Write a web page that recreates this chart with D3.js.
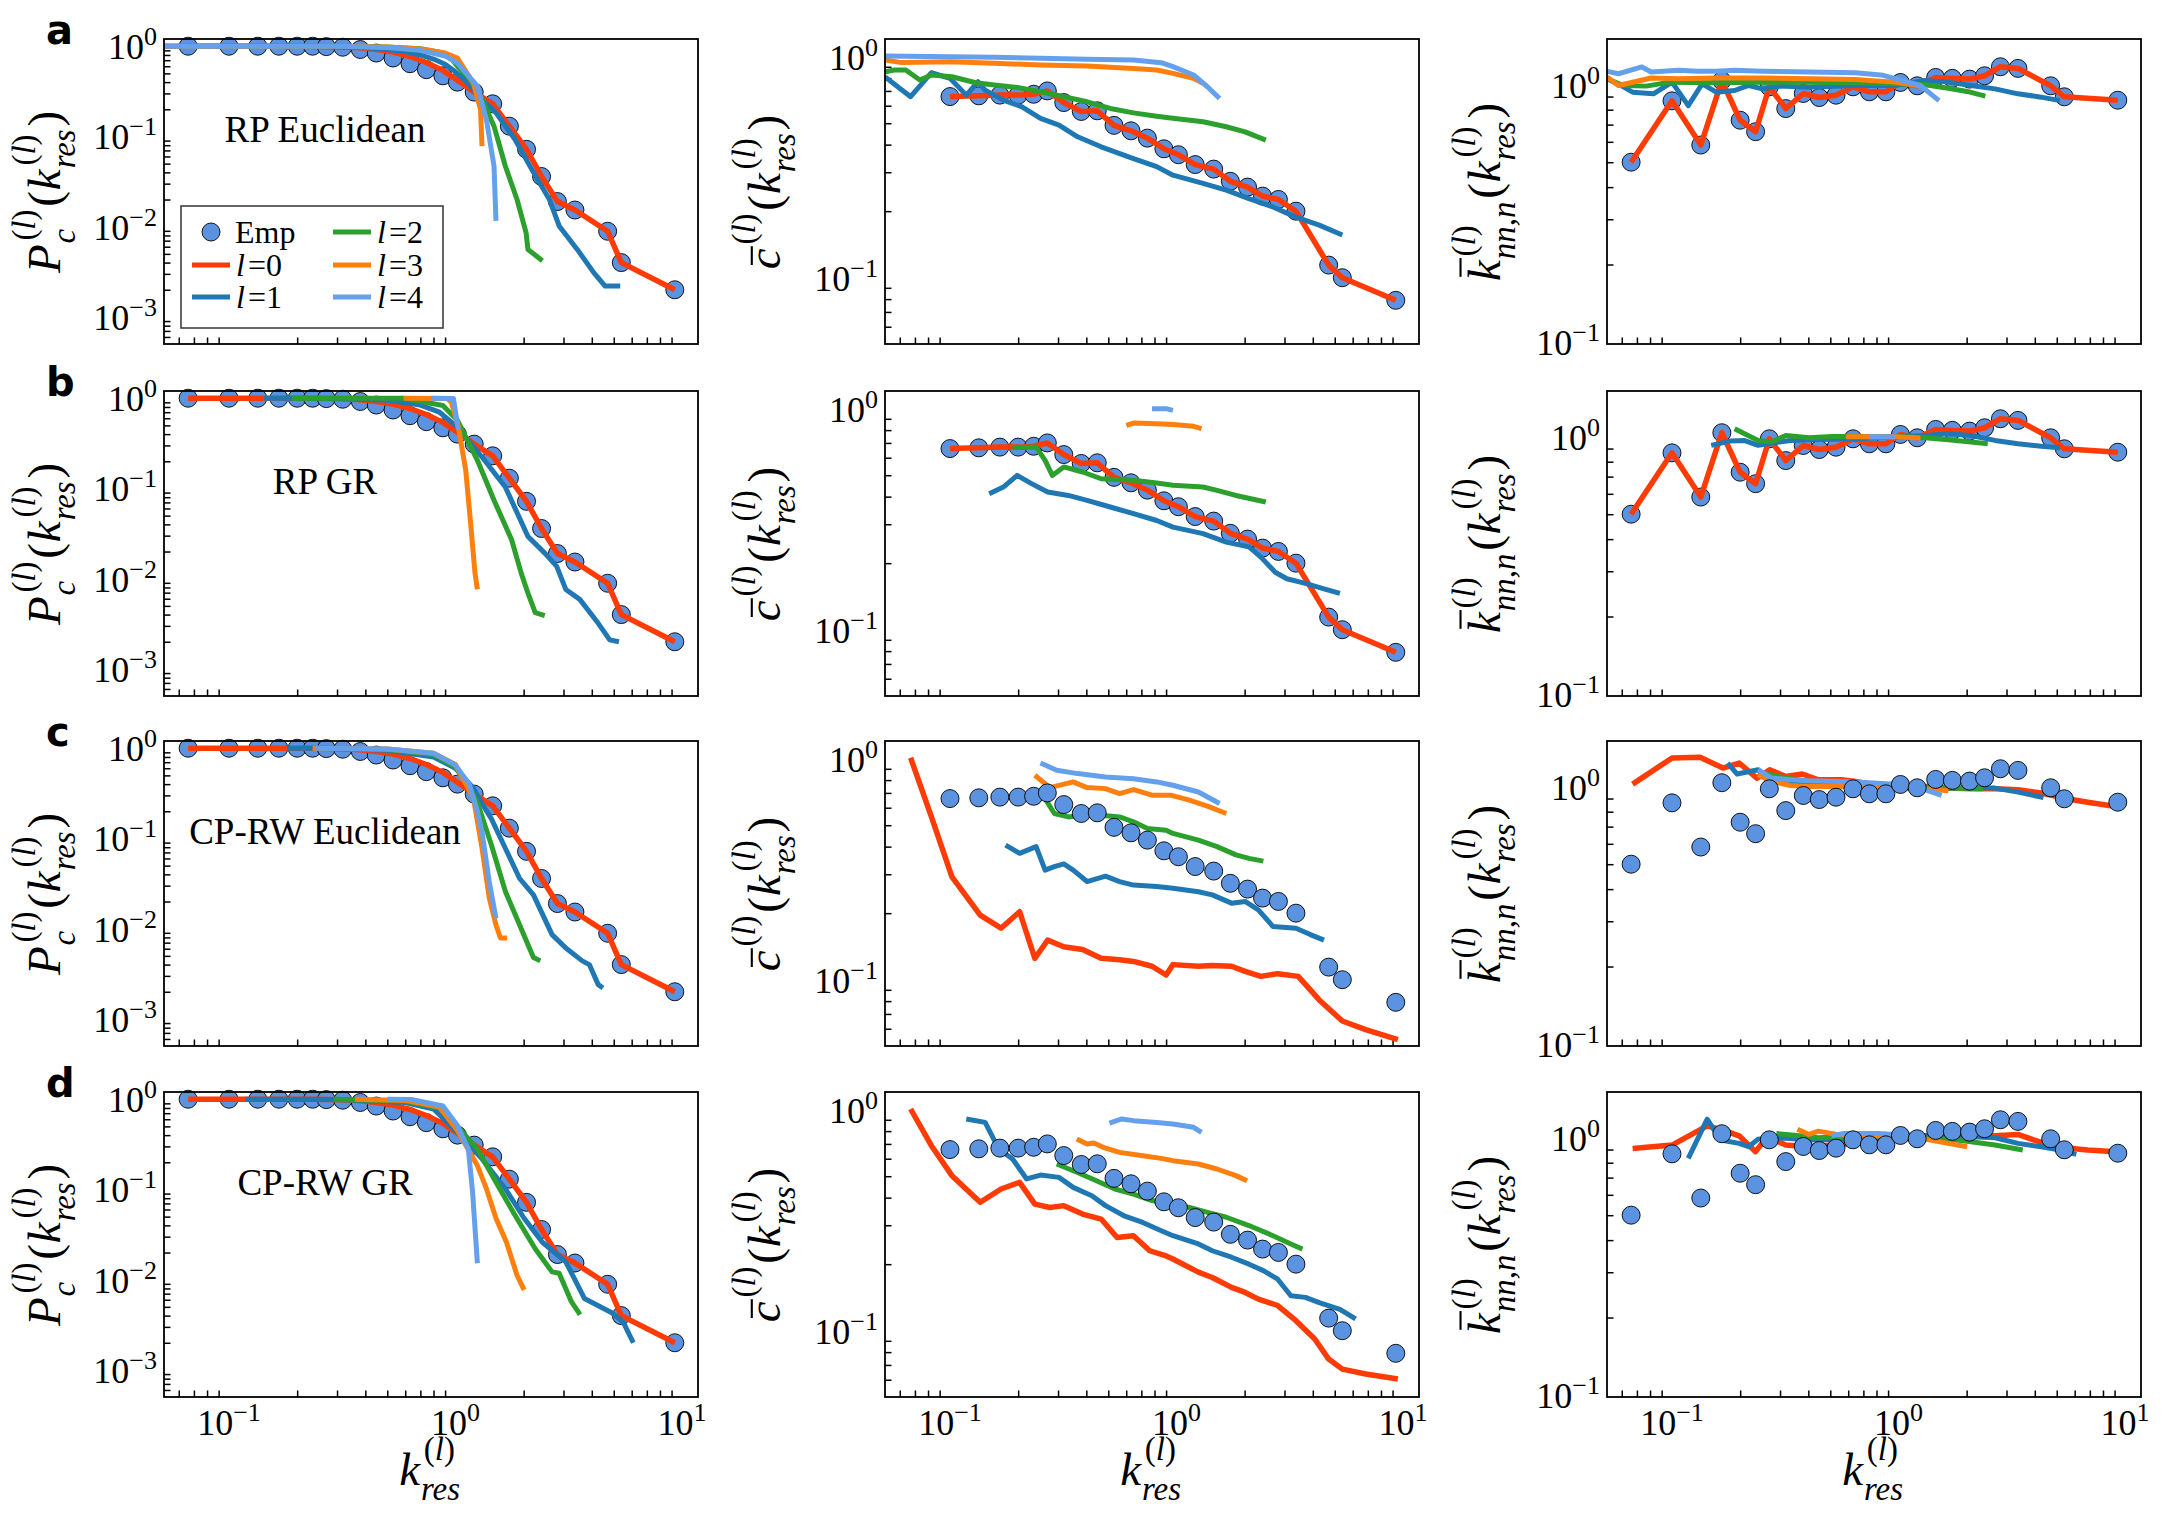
<!DOCTYPE html>
<html>
<head>
<meta charset="utf-8">
<script src="https://cdn.jsdelivr.net/npm/d3@7"></script>
<style>
  body { margin: 0; background: #fff; }
</style>
</head>
<body>
<script>
// ---------- data ----------
// empirical points, shared by all rows
const empX = [0.066, 0.1, 0.134, 0.166, 0.2, 0.234, 0.269, 0.318, 0.38, 0.447, 0.53, 0.63, 0.744, 0.88, 1.02, 1.21, 1.46, 1.73, 2.06, 2.4, 2.82, 3.37, 4.7, 5.4, 9.3];
const empPc = [1, 1, 1, 1, 1, 1, 0.99, 0.975, 0.92, 0.84, 0.74, 0.64, 0.55, 0.47, 0.40, 0.31, 0.23, 0.13, 0.072, 0.036, 0.019, 0.0153, 0.0089, 0.0040, 0.0020];
// clustering starts at the second point (0.1)
const empC = [0.66, 0.665, 0.67, 0.67, 0.676, 0.70, 0.62, 0.565, 0.569, 0.489, 0.462, 0.428, 0.383, 0.36, 0.325, 0.31, 0.273, 0.257, 0.234, 0.226, 0.20, 0.114, 0.10, 0.079];
const empKnn = [0.50, 0.866, 0.583, 1.037, 0.728, 0.657, 0.982, 0.808, 0.925, 0.892, 0.911, 0.982, 0.939, 0.939, 1.021, 0.991, 1.068, 1.059, 1.052, 1.084, 1.175, 1.158, 0.991, 0.898, 0.871];
// l=0 degree distribution (same in every row)
const pcL0 = [1, 1, 1, 1, 1, 1, 0.995, 0.985, 0.96, 0.92, 0.86, 0.77, 0.66, 0.54, 0.42, 0.31, 0.23, 0.13, 0.072, 0.036, 0.019, 0.0153, 0.0089, 0.0040, 0.0020];

const rowNames = ["RP Euclidean", "RP GR", "CP-RW Euclidean", "CP-RW GR"];
const panelLetters = ["a", "b", "c", "d"];
const legendNames = ["l=0", "l=1", "l=2", "l=3", "l=4"];

// row a
const aPc1 = [[0.05,1],[0.1,1],[0.2,0.995],[0.3,0.98],[0.4,0.96],[0.5,0.92],[0.6,0.87],[0.7,0.8],[0.8,0.72],[0.9,0.63],[1.0,0.52],[1.1,0.42],[1.2,0.33],[1.3,0.26],[1.51,0.183],[1.83,0.093],[2.21,0.040],[2.6,0.020],[2.87,0.0102],[3.45,0.0056],[4.08,0.0031],[4.58,0.0022],[5.34,0.0022]];
const aPc2 = [[0.05,1],[0.3,1],[0.5,0.98],[0.7,0.94],[0.85,0.86],[0.95,0.75],[1.02,0.6],[1.14,0.45],[1.25,0.33],[1.37,0.2],[1.48,0.13],[1.66,0.047],[1.87,0.020],[2.05,0.0086],[2.09,0.0056],[2.42,0.0042]];
const aPc3 = [[0.05,1],[0.3,1],[0.5,0.98],[0.7,0.93],[0.9,0.84],[1.02,0.74],[1.2,0.39],[1.29,0.2],[1.31,0.078]];
const aPc4 = [[0.05,1],[0.3,1],[0.5,0.97],[0.7,0.9],[0.9,0.78],[1.02,0.65],[1.25,0.36],[1.37,0.154],[1.48,0.047],[1.51,0.0116]];
const aC1 = [[0.0517,0.81],[0.067,0.659],[0.0828,0.846],[0.1,0.798],[0.118,0.67],[0.133,0.77],[0.143,0.706],[0.172,0.636],[0.208,0.593],[0.251,0.526],[0.303,0.49],[0.366,0.434],[0.465,0.391],[0.646,0.346],[0.818,0.318],[0.965,0.291],[1.31,0.267],[1.66,0.249],[2.09,0.228],[2.67,0.209],[3.37,0.188],[4.27,0.173],[5.4,0.156]];
const aC2 = [[0.0517,0.855],[0.0568,0.87],[0.0638,0.87],[0.0736,0.784],[0.0828,0.826],[0.102,0.811],[0.13,0.762],[0.157,0.744],[0.198,0.726],[0.251,0.694],[0.318,0.659],[0.403,0.625],[0.51,0.583],[0.646,0.557],[0.818,0.538],[0.965,0.526],[1.31,0.508],[1.66,0.482],[2.01,0.457],[2.48,0.419]];
const aC3 = [[0.0517,0.966],[0.061,0.94],[0.1,0.949],[0.157,0.933],[0.251,0.917],[0.403,0.907],[0.646,0.885],[0.818,0.87],[0.965,0.84],[1.19,0.798],[1.31,0.757]];
const aC4 = [[0.0517,1.007],[0.1,1.0],[0.157,0.993],[0.251,0.983],[0.403,0.973],[0.646,0.966],[0.857,0.939],[0.965,0.901],[1.19,0.826],[1.37,0.731],[1.55,0.647]];
const aK1 = [[0.0517,1.056],[0.0594,0.994],[0.067,0.936],[0.0828,0.922],[0.1,1.024],[0.118,0.83],[0.136,1.009],[0.157,0.936],[0.189,0.95],[0.218,0.994],[0.251,0.964],[0.303,0.988],[0.403,0.979],[0.646,0.994],[0.965,0.994],[1.31,1.04],[1.66,1.024],[2.09,0.994],[2.67,0.964],[3.37,0.922],[4.27,0.895],[5.16,0.868]];
const aK2 = [[0.0517,1.056],[0.061,0.994],[0.077,0.988],[0.098,1.024],[0.157,1.018],[0.251,1.024],[0.403,1.024],[0.646,1.018],[0.965,1.009],[1.31,1.0],[1.66,0.97],[2.01,0.942],[2.42,0.903]];
const aK3 = [[0.0517,1.072],[0.058,0.994],[0.081,1.062],[0.107,1.056],[0.157,1.062],[0.251,1.062],[0.403,1.056],[0.646,1.049],[0.965,1.024],[1.25,0.988]];
const aK4 = [[0.0517,1.128],[0.058,1.104],[0.0736,1.173],[0.081,1.121],[0.107,1.138],[0.13,1.128],[0.157,1.128],[0.189,1.138],[0.251,1.128],[0.403,1.121],[0.646,1.114],[0.857,1.088],[0.965,1.056],[1.25,0.994],[1.51,0.868]];

// row b
const bPc1 = [[0.143,1],[0.3,0.995],[0.5,0.95],[0.7,0.84],[0.85,0.7],[1.0,0.5],[1.15,0.33],[1.31,0.223],[1.66,0.104],[2.09,0.0293],[2.48,0.0192],[2.8,0.0137],[3.07,0.0076],[3.54,0.0059],[4.27,0.0032],[4.8,0.0021],[5.27,0.0020]];
const bPc2 = [[0.19,1],[0.59,1],[0.88,0.83],[1.02,0.57],[1.25,0.205],[1.48,0.074],[1.77,0.027],[1.95,0.0116],[2.09,0.0069],[2.25,0.0042],[2.48,0.0039]];
const bPc3 = [[0.59,1],[0.92,0.99],[0.96,0.9],[1.03,0.48],[1.11,0.16],[1.17,0.038],[1.22,0.0115],[1.25,0.0076]];
const bPc4 = [[0.78,1],[0.98,0.99],[1.01,0.6],[1.03,0.45]];
const bC1 = [[0.149,0.412],[0.172,0.442],[0.198,0.499],[0.229,0.458],[0.27,0.42],[0.333,0.405],[0.403,0.385],[0.51,0.359],[0.646,0.335],[0.818,0.312],[0.965,0.291],[1.31,0.272],[1.66,0.249],[2.09,0.237],[2.36,0.213],[2.73,0.182],[3.07,0.17],[3.71,0.162],[4.48,0.153],[5.27,0.146]];
const bC2 = [[0.189,0.666],[0.24,0.67],[0.263,0.584],[0.283,0.499],[0.318,0.545],[0.385,0.517],[0.465,0.482],[0.646,0.474],[0.818,0.461],[0.965,0.45],[1.31,0.442],[1.51,0.427],[1.83,0.405],[2.48,0.378]];
const bC3 = [[0.601,0.84],[0.646,0.861],[0.818,0.855],[0.965,0.849],[1.19,0.832],[1.29,0.812]];
const bC4 = [[0.78,1.0],[0.9,1.0],[0.965,0.983]];
const bK1 = [[0.149,0.926],[0.18,0.962],[0.208,0.968],[0.24,0.926],[0.276,0.945],[0.333,0.968],[0.403,0.974],[0.646,0.982],[0.965,0.997],[1.31,1.012],[1.66,1.027],[2.09,1.012],[2.67,0.968],[3.37,0.94],[4.27,0.918],[5.16,0.907]];
const bK2 = [[0.189,1.074],[0.24,0.968],[0.276,0.954],[0.318,1.012],[0.403,0.991],[0.51,1.003],[0.646,1.003],[0.818,0.997],[0.965,1.003],[1.31,0.991],[1.66,0.974],[2.09,0.954],[2.48,0.94]];
const bK3 = [[0.587,1.0],[0.744,1.0],[0.965,1.0],[1.25,0.99]];
const bK4 = [[0.744,1.0],[0.88,1.0],[0.965,0.997]];

// row c
const cPc1 = [[0.18,1],[0.3,0.99],[0.5,0.95],[0.8,0.8],[1.0,0.6],[1.2,0.36],[1.3,0.25],[1.44,0.166],[1.66,0.078],[1.92,0.036],[2.21,0.0237],[2.67,0.0086],[3.07,0.0061],[3.63,0.0044],[3.9,0.0040],[4.27,0.0024],[4.48,0.0022]];
const cPc2 = [[0.25,1],[0.5,0.97],[0.8,0.85],[1.0,0.62],[1.14,0.39],[1.25,0.25],[1.44,0.085],[1.66,0.026],[1.92,0.011],[2.21,0.0048],[2.37,0.0044]];
const cPc3 = [[0.234,1],[0.5,0.98],[0.8,0.88],[1.0,0.66],[1.2,0.28],[1.31,0.078],[1.41,0.022],[1.51,0.011],[1.58,0.0079],[1.69,0.0079]];
const cPc4 = [[0.24,1],[0.5,0.98],[0.8,0.88],[1.0,0.65],[1.15,0.4],[1.25,0.2],[1.31,0.118],[1.41,0.033],[1.51,0.013]];
const cC0 = [[0.067,1.01],[0.0828,0.545],[0.102,0.292],[0.136,0.196],[0.168,0.171],[0.203,0.203],[0.237,0.125],[0.27,0.151],[0.318,0.141],[0.385,0.137],[0.465,0.125],[0.561,0.123],[0.646,0.121],[0.78,0.115],[0.9,0.105],[0.965,0.117],[1.25,0.115],[1.44,0.116],[1.75,0.115],[2.01,0.109],[2.36,0.1035],[2.8,0.1065],[3.45,0.1035],[4.27,0.081],[5.4,0.065],[6.85,0.0594],[9.5,0.0536]];
const cC1 = [[0.176,0.406],[0.203,0.373],[0.24,0.40],[0.263,0.313],[0.289,0.325],[0.318,0.334],[0.35,0.313],[0.403,0.278],[0.486,0.294],[0.561,0.278],[0.646,0.268],[0.818,0.264],[0.965,0.259],[1.25,0.25],[1.44,0.242],[1.75,0.222],[2.01,0.226],[2.3,0.207],[2.67,0.174],[3.37,0.171],[3.9,0.16],[4.48,0.151]];
const cC2 = [[0.263,0.66],[0.289,0.565],[0.333,0.545],[0.385,0.555],[0.465,0.555],[0.561,0.545],[0.646,0.518],[0.744,0.483],[0.9,0.475],[0.965,0.459],[1.25,0.428],[1.51,0.40],[1.83,0.367],[2.09,0.354],[2.42,0.344]];
const cC3 = [[0.237,0.841],[0.276,0.74],[0.35,0.785],[0.403,0.74],[0.486,0.732],[0.561,0.695],[0.646,0.725],[0.78,0.684],[0.942,0.684],[1.14,0.649],[1.37,0.61],[1.66,0.565]];
const cC4 = [[0.251,0.956],[0.296,0.886],[0.366,0.856],[0.486,0.827],[0.646,0.812],[0.818,0.785],[0.965,0.758],[1.25,0.707],[1.55,0.627]];
const cK0 = [[0.067,1.024],[0.1,1.294],[0.133,1.302],[0.168,1.183],[0.198,1.237],[0.237,1.081],[0.27,1.165],[0.318,1.097],[0.376,1.121],[0.443,1.065],[0.561,1.065],[0.646,1.049],[0.857,1.003],[0.965,0.988],[1.31,1.003],[1.66,0.988],[2.09,0.982],[2.67,0.982],[3.37,0.973],[4.27,0.945],[5.4,0.903],[6.85,0.871],[9.1,0.838]];
const cK1 = [[0.176,1.237],[0.194,1.121],[0.24,1.165],[0.263,1.065],[0.333,1.049],[0.403,1.043],[0.646,1.033],[0.965,1.012],[1.66,0.988],[2.09,0.994],[2.67,0.988],[3.37,0.953],[4.37,0.908]];
const cK2 = [[0.251,1.131],[0.318,1.081],[0.403,1.049],[0.646,1.033],[0.965,1.012],[1.66,0.988],[2.36,0.982]];
const cK3 = [[0.24,1.114],[0.276,1.049],[0.333,1.012],[0.403,1.003],[0.646,1.003],[0.965,0.994],[1.31,0.982],[1.66,0.965]];
const cK4 = [[0.24,1.165],[0.276,1.081],[0.333,1.065],[0.403,1.055],[0.646,1.043],[0.965,1.024],[1.25,0.988],[1.55,0.925]];

// row d
const dPc1 = [[0.118,1],[0.3,0.99],[0.6,0.92],[0.8,0.78],[1.02,0.43],[1.31,0.218],[1.66,0.102],[2.01,0.048],[2.42,0.026],[3.07,0.0158],[3.71,0.0062],[4.9,0.0043],[5.5,0.0034],[6.1,0.0020]];
const dPc2 = [[0.29,1],[0.6,0.95],[0.85,0.8],[1.02,0.5],[1.25,0.28],[1.51,0.12],[1.83,0.052],[2.25,0.022],[2.67,0.0122],[2.87,0.0118],[3.25,0.0057],[3.55,0.0041]];
const dPc3 = [[0.36,1],[0.6,0.97],[0.85,0.82],[1.02,0.45],[1.25,0.184],[1.37,0.102],[1.51,0.048],[1.68,0.026],[1.87,0.0112],[2.01,0.0077]];
const dPc4 = [[0.5,1],[0.646,0.99],[0.88,0.84],[1.02,0.51],[1.14,0.28],[1.19,0.094],[1.25,0.0152]];
const dC0 = [[0.067,1.007],[0.0828,0.687],[0.102,0.503],[0.136,0.381],[0.168,0.4375],[0.203,0.469],[0.237,0.374],[0.276,0.361],[0.318,0.368],[0.385,0.337],[0.465,0.32],[0.547,0.264],[0.646,0.269],[0.762,0.23],[0.9,0.218],[0.965,0.211],[1.25,0.184],[1.44,0.174],[1.75,0.157],[2.01,0.149],[2.3,0.139],[2.8,0.13],[3.37,0.111],[4.08,0.0917],[4.7,0.0744],[5.4,0.067],[6.85,0.0637],[9.5,0.0604]];
const dC1 = [[0.118,0.908],[0.143,0.876],[0.164,0.664],[0.189,0.598],[0.218,0.486],[0.251,0.506],[0.303,0.494],[0.35,0.445],[0.423,0.408],[0.486,0.368],[0.587,0.331],[0.71,0.309],[0.857,0.2835],[0.965,0.269],[1.25,0.247],[1.44,0.23],[1.75,0.215],[2.09,0.2],[2.42,0.187],[2.8,0.171],[3.2,0.144],[3.71,0.1415],[4.27,0.134],[5.27,0.125],[6.18,0.113]];
const dC2 = [[0.296,0.568],[0.366,0.52],[0.443,0.477],[0.535,0.4375],[0.646,0.415],[0.78,0.388],[0.942,0.374],[1.14,0.361],[1.37,0.343],[1.66,0.326],[2.09,0.299],[2.67,0.269],[3.2,0.247],[3.6,0.234]];
const dC3 = [[0.363,0.737],[0.403,0.7],[0.432,0.707],[0.475,0.676],[0.561,0.641],[0.71,0.619],[0.857,0.602],[0.965,0.588],[1.25,0.568],[1.51,0.539],[1.83,0.503],[2.05,0.477]];
const dC4 = [[0.506,0.87],[0.574,0.908],[0.646,0.892],[0.818,0.876],[0.965,0.861],[1.19,0.832],[1.29,0.79]];
const dK0 = [[0.067,0.909],[0.1,0.937],[0.143,1.113],[0.168,1.071],[0.198,1.018],[0.234,0.883],[0.263,1.009],[0.318,0.937],[0.403,0.923],[0.51,0.937],[0.646,0.951],[0.818,0.971],[0.965,0.994],[1.31,1.018],[1.66,1.039],[2.09,1.024],[2.67,1.018],[3.37,1.030],[4.27,0.959],[5.4,0.915],[6.85,0.896],[9.1,0.883]];
const dK1 = [[0.118,0.832],[0.143,1.181],[0.164,0.98],[0.198,0.951],[0.218,0.923],[0.24,0.988],[0.276,1.0],[0.333,0.994],[0.403,0.98],[0.646,0.988],[0.965,1.0],[1.66,1.018],[2.09,1.009],[2.67,1.0],[3.37,0.951],[4.27,0.923],[5.16,0.896],[6.1,0.862]];
const dK2 = [[0.289,1.039],[0.366,1.018],[0.443,1.0],[0.646,1.018],[0.965,1.009],[1.66,0.988],[2.09,0.965],[2.67,0.937],[3.54,0.896]];
const dK3 = [[0.358,1.08],[0.403,1.03],[0.443,1.061],[0.535,1.03],[0.646,1.018],[0.818,1.018],[0.965,1.009],[1.31,0.988],[1.66,0.951],[2.01,0.923]];
const dK4 = [[0.506,1.018],[0.574,1.039],[0.818,1.039],[0.965,1.03],[1.29,1.018]];

// ---------- layout ----------
const W = 2165, H = 1519;
const colX = [164, 885, 1607], rowY = [39, 391, 741, 1092];
const panelW = 534, panelH = 305;
const SERIF = "'Liberation Serif', 'DejaVu Serif', serif";
const lineColors = ["#ff3b05", "#1f77b4", "#2ca02c", "#ff7f0e", "#64a0ec"];
const empColor = "#5b93e0";

const pairs = (xs, ys) => ys.map((v, i) => [xs[i], v]);
const empPcPts = pairs(empX, empPc);
const empCPts = pairs(empX.slice(1), empC);
const empKPts = pairs(empX, empKnn);
const pcL0Pts = pairs(empX, pcL0);

// series[row][col] = [l0..l4]
const series = [
  [[pcL0Pts, aPc1, aPc2, aPc3, aPc4], [empCPts, aC1, aC2, aC3, aC4], [empKPts, aK1, aK2, aK3, aK4]],
  [[pcL0Pts, bPc1, bPc2, bPc3, bPc4], [empCPts, bC1, bC2, bC3, bC4], [empKPts, bK1, bK2, bK3, bK4]],
  [[pcL0Pts, cPc1, cPc2, cPc3, cPc4], [cC0, cC1, cC2, cC3, cC4], [cK0, cK1, cK2, cK3, cK4]],
  [[pcL0Pts, dPc1, dPc2, dPc3, dPc4], [dC0, dC1, dC2, dC3, dC4], [dK0, dK1, dK2, dK3, dK4]]
];
const empSeries = [empPcPts, empCPts, empKPts];

const x = d3.scaleLog().domain([10 ** -1.287, 10 ** 1.071]).range([0, panelW]);
const yScales = [
  d3.scaleLog().domain([10 ** -3.3, 10 ** 0.08]).range([panelH, 0]),
  d3.scaleLog().domain([10 ** -1.30, 10 ** 0.08]).range([panelH, 0]),
  d3.scaleLog().domain([10 ** -1.008, 10 ** 0.178]).range([panelH, 0])
];

const svg = d3.select("body").append("svg")
  .attr("width", W).attr("height", H)
  .style("font-family", SERIF);
svg.append("rect").attr("width", W).attr("height", H).attr("fill", "#fff");
const defs = svg.append("defs");

function logTicks(dom) {
  const lo = Math.log10(dom[0]), hi = Math.log10(dom[1]);
  const major = [], minor = [];
  for (let e = Math.floor(lo); e <= Math.ceil(hi); e++) {
    const v = Math.pow(10, e);
    if (v >= dom[0] * 0.999 && v <= dom[1] * 1.001) major.push(v);
    for (let m = 2; m < 10; m++) {
      const w = m * Math.pow(10, e);
      if (w >= dom[0] && w <= dom[1]) minor.push(w);
    }
  }
  return { major, minor };
}

// "10" with a superscript exponent
function powLabel(sel, v) {
  const e = Math.round(Math.log10(v));
  sel.append("tspan").text("10");
  sel.append("tspan").attr("dy", -14).attr("font-size", 26).text(e < 0 ? "\u2212" + (-e) : e);
}

// small mathtext-like helper: one <text>, pieces as positioned tspans
function mathText(g, items, fs) {
  const s = fs * 0.7;
  const txt = g.append("text");
  let cx = 0;
  function put(p, px, py, size) {
    const el = txt.append("tspan").attr("x", px).attr("y", py).attr("font-size", size)
      .attr("font-style", p.it ? "italic" : "normal").text(p.t);
    return el.node().getComputedTextLength();
  }
  items.forEach(d => {
    if (d.t !== undefined) {
      const w = put(d, cx, 0, fs);
      if (d.bar) {
        g.append("line")
          .attr("x1", cx + w * 0.2).attr("x2", cx + w * 1.1)
          .attr("y1", -d.bar * fs).attr("y2", -d.bar * fs)
          .attr("stroke", "#000").attr("stroke-width", fs * 0.045);
      }
      cx += w + fs * 0.02;
    } else {
      let xs = cx, xp = cx + fs * 0.06;
      // sub/sup stacked at the same x
      (d.sub || []).forEach(p => { xs += put(p, xs, fs * 0.31, s); });
      (d.sup || []).forEach(p => { xp += put(p, xp, -fs * 0.53, s); });
      cx = Math.max(xs, xp) + fs * 0.06;
    }
  });
  return cx;
}

const supL = [{ t: "(" }, { t: "l", it: true }, { t: ")" }];
const kres = [{ t: "k", it: true }, { sub: [{ t: "res", it: true }], sup: supL }];
const yLabels = [
  [{ t: "P", it: true }, { sub: [{ t: "c", it: true }], sup: supL }, { t: "(" }, ...kres, { t: ")" }],
  [{ t: "c", it: true, bar: 0.6 }, { sup: supL }, { t: "(" }, ...kres, { t: ")" }],
  [{ t: "k", it: true, bar: 0.84 }, { sub: [{ t: "nn,n", it: true }], sup: supL }, { t: "(" }, ...kres, { t: ")" }]
];
const yLabelX = [60, 780, 1500];
const LABEL_FS = 47;

const line = (y) => d3.line().x(d => x(d[0])).y(d => y(d[1]));

for (let r = 0; r < 4; r++) {
  for (let c = 0; c < 3; c++) {
    const y = yScales[c];
    const g = svg.append("g").attr("transform", `translate(${colX[c]},${rowY[r]})`);

    const clipId = `clip${r}${c}`;
    defs.append("clipPath").attr("id", clipId)
      .append("rect").attr("width", panelW).attr("height", panelH);

    // ticks point inward, no top/right ticks
    const xt = logTicks(x.domain()), yt = logTicks(y.domain());
    const bx = g.append("g").attr("transform", `translate(0,${panelH})`);
    bx.call(d3.axisBottom(x).tickValues(xt.major).tickSize(-12).tickFormat(""));
    bx.call(d3.axisBottom(x).tickValues(xt.minor).tickSize(-6.5).tickFormat(""));
    const ly = g.append("g");
    ly.call(d3.axisLeft(y).tickValues(yt.major).tickSize(-12).tickFormat(""));
    ly.call(d3.axisLeft(y).tickValues(yt.minor).tickSize(-6.5).tickFormat(""));
    g.selectAll(".domain").remove();
    g.selectAll(".tick line").attr("stroke", "#000").attr("stroke-width", 1.5);

    yt.major.forEach(v => {
      const t = g.append("text").attr("x", -7).attr("y", y(v) + 13)
        .attr("text-anchor", "end").attr("font-size", 36);
      powLabel(t, v);
    });
    if (r === 3) {
      xt.major.forEach(v => {
        const t = g.append("text").attr("x", x(v)).attr("y", panelH + 38)
          .attr("text-anchor", "middle").attr("font-size", 36);
        powLabel(t, v);
      });
    }

    const empOnTop = r >= 2 && c >= 1;
    const drawEmp = () => {
      g.append("g").selectAll("circle")
        .data(empSeries[c])
        .join("circle")
        .attr("cx", d => x(d[0])).attr("cy", d => y(d[1]))
        .attr("r", 9)
        .attr("fill", empColor).attr("stroke", "#000").attr("stroke-width", 0.9);
    };
    const drawLines = () => {
      g.append("g").attr("clip-path", `url(#${clipId})`)
        .selectAll("path")
        .data(series[r][c])
        .join("path")
        .attr("d", line(y))
        .attr("fill", "none")
        .attr("stroke", (d, i) => lineColors[i])
        .attr("stroke-width", (d, i) => i === 0 ? 5.5 : 5)
        .attr("stroke-linejoin", "round");
    };
    if (empOnTop) { drawLines(); drawEmp(); } else { drawEmp(); drawLines(); }

    g.append("rect").attr("width", panelW).attr("height", panelH)
      .attr("fill", "none").attr("stroke", "#000").attr("stroke-width", 1.8);

    if (c === 0) {
      g.append("text").attr("x", 161).attr("y", 103)
        .attr("text-anchor", "middle").attr("font-size", 37)
        .text(rowNames[r]);
      svg.append("text").attr("x", 46).attr("y", rowY[r] + 5)
        .attr("font-family", "'DejaVu Sans', 'Liberation Sans', sans-serif")
        .attr("font-weight", "bold").attr("font-size", 40)
        .text(panelLetters[r]);
    }

    // y label, rotated
    const yl = svg.append("g")
      .attr("transform", `translate(${yLabelX[c]},${rowY[r] + panelH / 2}) rotate(-90)`);
    const inner = yl.append("g");
    const w = mathText(inner, yLabels[c], LABEL_FS);
    inner.attr("transform", `translate(${-w / 2},0)`);

    // legend in panel a, first column
    if (r === 0 && c === 0) {
      const lg = g.append("g");
      lg.append("rect").attr("x", 17).attr("y", 167).attr("width", 262).attr("height", 122)
        .attr("fill", "#fff").attr("stroke", "#333").attr("stroke-width", 1.5);
      const rowsY = [193, 226, 258];
      const entries = [
        { col: 0, row: 0, emp: true, text: "Emp" },
        { col: 0, row: 1, l: 0 }, { col: 0, row: 2, l: 1 },
        { col: 1, row: 0, l: 2 }, { col: 1, row: 1, l: 3 }, { col: 1, row: 2, l: 4 }
      ];
      const hx = [28, 169];
      entries.forEach(e => {
        const yy = rowsY[e.row], x0 = hx[e.col];
        if (e.emp) {
          lg.append("circle").attr("cx", x0 + 19).attr("cy", yy).attr("r", 9)
            .attr("fill", empColor).attr("stroke", "#000").attr("stroke-width", 0.9);
          lg.append("text").attr("x", x0 + 43).attr("y", yy + 11).attr("font-size", 32).text(e.text);
        } else {
          lg.append("line").attr("x1", x0).attr("x2", x0 + 38).attr("y1", yy).attr("y2", yy)
            .attr("stroke", lineColors[e.l]).attr("stroke-width", 5);
          const t = lg.append("text").attr("x", x0 + 44).attr("y", yy + 11).attr("font-size", 32);
          t.append("tspan").attr("font-style", "italic").text("l");
          t.append("tspan").attr("dx", 3).text("=" + legendNames[e.l].split("=")[1]);
        }
      });
    }
  }
}

// x labels under the bottom row
for (let c = 0; c < 3; c++) {
  const xl = svg.append("g").attr("transform", `translate(${colX[c] + panelW / 2},1485)`);
  const inner = xl.append("g");
  const w = mathText(inner, kres, LABEL_FS);
  inner.attr("transform", `translate(${-w / 2},0)`);
}
</script>
</body>
</html>
